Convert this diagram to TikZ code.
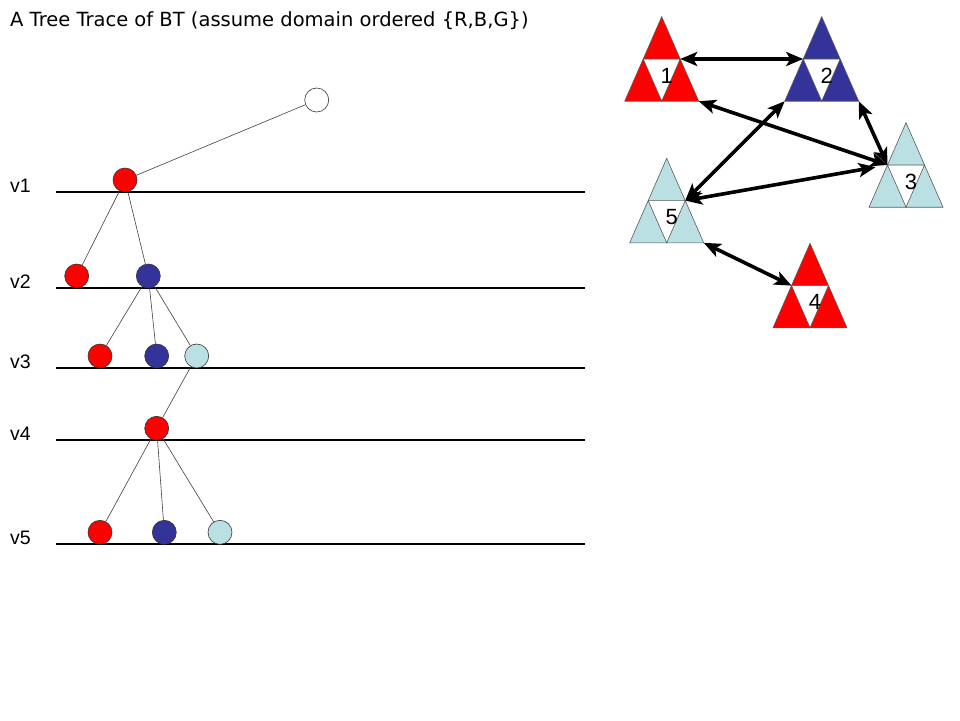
\documentclass[tikz,border=0pt]{standalone}
\usepackage{fontspec}
\setmainfont{Liberation Sans}
\newfontfamily\titlefont{DejaVu Sans}
\usepackage{tikz}
\usetikzlibrary{arrows.meta}

\definecolor{dred}{HTML}{FF0000}
\definecolor{dblue}{HTML}{333399}
\definecolor{lblue}{HTML}{BBE0E3}

\tikzset{
    val/.style={circle,draw=black!80,line width=0.6pt,minimum size=24pt,inner sep=0pt},
    branch/.style={draw=black!75,line width=0.6pt},
    level/.style={line width=1.3pt},
    lvlab/.style={anchor=west,inner sep=0pt,font=\fontsize{19.5}{22}\selectfont},
    arc/.style={line width=3.6pt,{Stealth[length=17pt,width=14pt,inset=4pt]}-{Stealth[length=17pt,width=14pt,inset=4pt]}},
    pics/domain/.style 2 args={code={
        \coordinate (-top) at (0,0);
        \coordinate (-ml) at (-18.5,42.3);
        \coordinate (-mr) at (18.5,42.3);
        \coordinate (-bl) at (-37,84.5);
        \coordinate (-bm) at (0,84.5);
        \coordinate (-br) at (37,84.5);
        \fill[#1] (-top) -- (-ml) -- (-mr) -- cycle
            (-ml) -- (-bl) -- (-bm) -- cycle
            (-mr) -- (-bm) -- (-br) -- cycle;
        \draw[black!65,line width=0.6pt] (-top) -- (-bl) -- (-br) -- cycle
            (-ml) -- (-mr) -- (-bm) -- cycle;
        \node[inner sep=0pt,font=\fontsize{22}{24}\selectfont] (-num) at (5,59) {#2};
    }}
}

\begin{document}
\begin{tikzpicture}[x=1pt,y=-1pt]
    \useasboundingbox (0,0) rectangle (960,720);
    \node[anchor=west,inner sep=0pt,font=\titlefont\fontsize{19.5}{22}\selectfont] (title) at (10,21)
        {A Tree Trace of BT (assume domain ordered \{R,B,G\})};

    % levels of the search tree
    \foreach \y/\v in {192/v1,288/v2,368/v3,440/v4,544/v5}{
        \draw[level] (56,\y) -- (585,\y);
        \node[lvlab] (\v) at (10,\y-6) {\v};
    }

    \node[val,fill=white] (root) at (316.7,100) {};
    \node[val,fill=dred] (r1) at (125,180) {};
    \node[val,fill=dred] (r2) at (76.7,276) {};
    \node[val,fill=dblue] (b2) at (148.3,276) {};
    \node[val,fill=dred] (r3) at (100,356) {};
    \node[val,fill=dblue] (b3) at (156.7,356) {};
    \node[val,fill=lblue] (g3) at (196.7,356) {};
    \node[val,fill=dred] (r4) at (156.7,428.3) {};
    \node[val,fill=dred] (r5) at (100,532.3) {};
    \node[val,fill=dblue] (b5) at (164.3,532.3) {};
    \node[val,fill=lblue] (g5) at (220,532.3) {};

    \draw[branch] (root) -- (r1);
    \draw[branch] (r1) -- (r2);
    \draw[branch] (r1) -- (b2);
    \draw[branch] (b2) -- (r3);
    \draw[branch] (b2) -- (b3);
    \draw[branch] (b2) -- (g3);
    \draw[branch] (g3) -- (r4);
    \draw[branch] (r4) -- (r5);
    \draw[branch] (r4) -- (b5);
    \draw[branch] (r4) -- (g5);

    % constraint graph
    \pic (t1) at (661.7,16.7) {domain={dred}{1}};
    \pic (t2) at (821.7,16.7) {domain={dblue}{2}};
    \pic (t3) at (906,122.7) {domain={lblue}{3}};
    \pic (t5) at (666.7,158.3) {domain={lblue}{5}};
    \pic (t4) at (810,243.3) {domain={dred}{4}};

    \draw[arc] (t1-mr) -- (t2-ml);
    \draw[arc] (t1-br) -- (t3-ml);
    \draw[arc] (t2-bl) -- (t5-mr);
    \draw[arc] (t2-br) -- (t3-ml);
    \draw[arc,shorten >=12pt] (t5-mr) -- (t3-ml);
    \draw[arc] (t5-br) -- (t4-ml);
\end{tikzpicture}
\end{document}
